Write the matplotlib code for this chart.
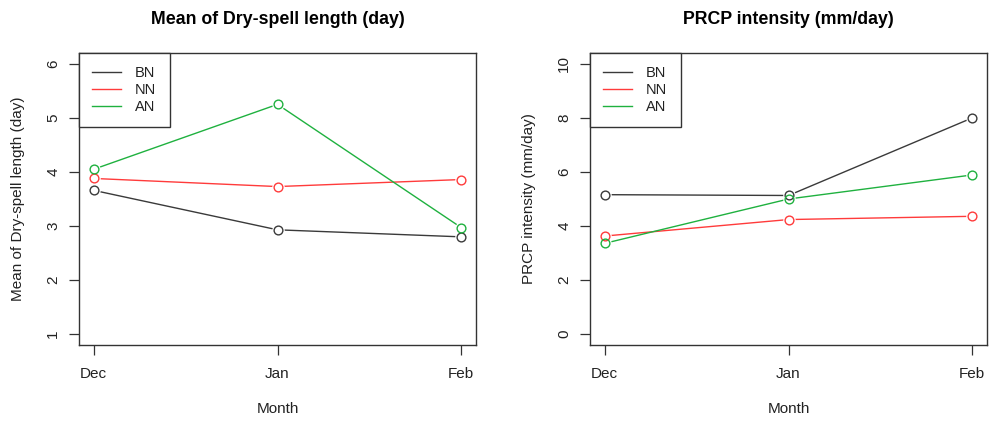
import matplotlib
matplotlib.use("Agg")
import matplotlib.pyplot as plt
from matplotlib.lines import Line2D

plt.rcParams['font.family'] = ['Liberation Sans', 'DejaVu Sans']

months = ["Dec", "Jan", "Feb"]
series_names = ["BN", "NN", "AN"]
series_colors = ["#3a3a3a", "#ff3b3b", "#1fb13f"]

dry_spell = {
    "BN": [3.66, 2.93, 2.80],
    "NN": [3.88, 3.73, 3.86],
    "AN": [4.05, 5.25, 2.97],
}
prcp_int = {
    "BN": [5.16, 5.13, 8.00],
    "NN": [3.63, 4.24, 4.36],
    "AN": [3.36, 5.00, 5.89],
}

panels = [
    ("Mean of Dry-spell length (day)", "Mean of Dry-spell length (day)", dry_spell, (1, 6), [1, 2, 3, 4, 5, 6]),
    ("PRCP intensity (mm/day)", "PRCP intensity (mm/day)", prcp_int, (0, 10), [0, 2, 4, 6, 8, 10]),
]

fig = plt.figure(figsize=(9.89, 4.22), dpi=100)
lefts = [79 / 989, 590 / 989]
width = 397 / 989
bottom = (422 - 345) / 422
height = 292 / 422

x = [1, 2, 3]
for (title, ylabel, data, (lo, hi), yt), left in zip(panels, lefts):
    ax = fig.add_axes([left, bottom, width, height])
    for name, col in zip(series_names, series_colors):
        ax.plot(x, data[name], color=col, lw=1.0, zorder=2)
    for name, col in zip(series_names, series_colors):
        ax.plot(x, data[name], ls='none', marker='o', ms=9.0, mfc='white', mec='none', zorder=3)
    for name, col in zip(series_names, series_colors):
        ax.plot(x, data[name], ls='none', marker='o', ms=6.3, mfc='none', mec=col, mew=1.0, zorder=4)
    rng = hi - lo
    ax.set_ylim(lo - 0.04 * rng, hi + 0.04 * rng)
    ax.set_xlim(1 - 0.08, 3 + 0.08)
    ax.set_xticks(x)
    ax.set_xticklabels(months)
    ax.set_yticks(yt)
    ax.set_yticklabels([str(v) for v in yt], rotation=90, va='center')
    ax.tick_params(axis='both', direction='out', length=7.5, width=0.9, color='#333333',
                   labelsize=11, labelcolor='#222222')
    ax.tick_params(axis='y', pad=6)
    ax.tick_params(axis='x', pad=8.5)
    for s in ax.spines.values():
        s.set_color('#333333')
        s.set_linewidth(1.0)
    ax.set_title(title, fontsize=12.8, fontweight='bold', pad=21)
    ax.set_xlabel("Month", fontsize=11, labelpad=15, color='#222222')
    ax.set_ylabel(ylabel, fontsize=11, labelpad=15.5, color='#222222')
    handles = [Line2D([], [], color=c, lw=1.0) for c in series_colors]
    leg = ax.legend(handles, series_names, loc='upper left', bbox_to_anchor=(0, 1),
                    borderaxespad=0, fancybox=False, framealpha=1, edgecolor='#333333',
                    fontsize=10.5, handlelength=2.0, handletextpad=0.95,
                    labelspacing=0.2, borderpad=0.9, markerfirst=True)
    leg.get_frame().set_linewidth(1.0)
    leg.get_frame().set_boxstyle('square', pad=0)
    for t in leg.get_texts():
        t.set_color('#222222')

fig.savefig("out.png", dpi=100)
